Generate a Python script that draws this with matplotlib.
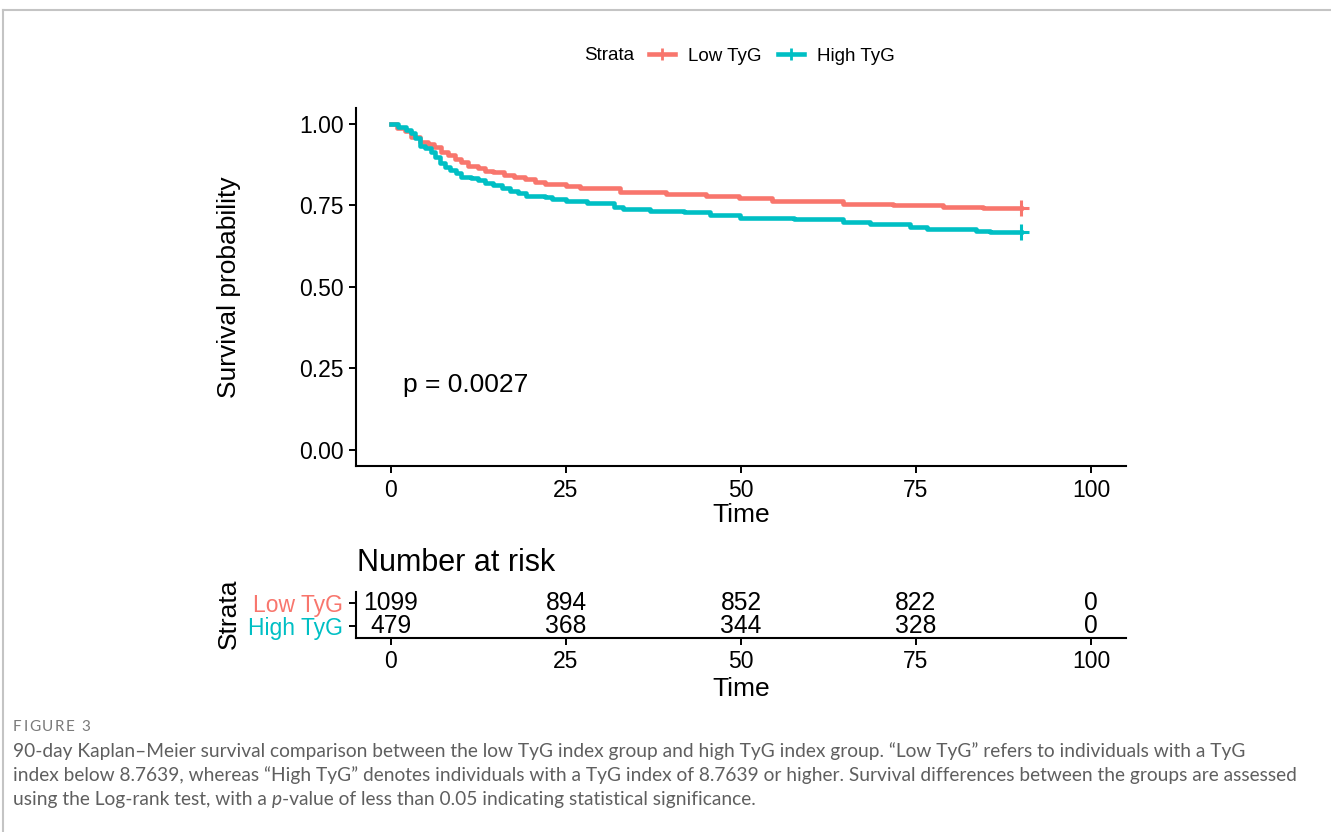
import matplotlib
matplotlib.use("Agg")
import matplotlib.pyplot as plt
from matplotlib.lines import Line2D

plt.rcParams['font.family'] = ['Liberation Sans', 'DejaVu Sans']

RED = "#F8766D"
CYAN = "#00BFC4"

# Kaplan-Meier step curves (time, survival)
low_times = [0, 0.8, 2.0, 2.9, 4.2, 5.3, 6.2, 7.2, 8.1, 9.1, 10.0, 11.0, 12.4, 13.4,
             14.6, 16.2, 17.6, 19.1, 20.5, 22.0, 25.0, 27.0, 32.7, 39.3, 45.0, 49.7,
             54.4, 64.6, 71.7, 78.9, 84.6, 90]
low_surv = [1.0, 0.989, 0.977, 0.961, 0.946, 0.938, 0.930, 0.915, 0.905, 0.893, 0.883,
            0.871, 0.864, 0.857, 0.852, 0.844, 0.836, 0.830, 0.823, 0.816, 0.811, 0.804,
            0.792, 0.785, 0.779, 0.772, 0.764, 0.755, 0.750, 0.744, 0.741, 0.741]

high_times = [0, 1.0, 2.2, 2.9, 3.4, 4.1, 4.8, 5.7, 6.3, 7.0, 7.7, 8.4, 9.3, 10.0, 11.5,
              12.4, 13.4, 14.6, 15.8, 17.0, 18.1, 19.3, 22.0, 23.0, 25.0, 28.0, 31.8,
              33.2, 37.0, 41.8, 45.6, 49.9, 57.5, 64.6, 68.4, 74.1, 76.5, 83.6, 85.5, 90]
high_surv = [1.0, 0.992, 0.982, 0.971, 0.958, 0.933, 0.925, 0.915, 0.900, 0.879, 0.869,
             0.859, 0.849, 0.838, 0.833, 0.828, 0.820, 0.813, 0.805, 0.795, 0.787, 0.780,
             0.777, 0.770, 0.765, 0.757, 0.746, 0.739, 0.734, 0.729, 0.721, 0.713, 0.708,
             0.698, 0.692, 0.685, 0.678, 0.673, 0.668, 0.668]

strata = ["Low TyG", "High TyG"]
risk_times = [0, 25, 50, 75, 100]
low_risk = [1099, 894, 852, 822, 0]
high_risk = [479, 368, 344, 328, 0]

W, H = 1331, 832


def px(x, y):
    return x / W, 1 - y / H


fig = plt.figure(figsize=(W / 100, H / 100), dpi=100)
fig.patch.set_facecolor("white")
renderer = fig.canvas.get_renderer()

# page frame (top and left)
fig.add_artist(Line2D([3 / W, 1], [1 - 10 / H] * 2, color="#c4c4c4", lw=1.5))
fig.add_artist(Line2D([3 / W] * 2, [0, 1 - 10 / H], color="#c4c4c4", lw=1.5))


def style_axes(ax):
    for s in ("top", "right"):
        ax.spines[s].set_visible(False)
    for s in ("left", "bottom"):
        ax.spines[s].set_linewidth(1.5)
        ax.spines[s].set_color("black")
    ax.tick_params(length=5, width=1.4, labelsize=16.5, pad=4, colors="black")
    ax.set_xlim(-5, 105)
    ax.set_xticks(risk_times)


# survival curves
ax = fig.add_axes([356 / W, 1 - 466.3 / H, 770 / W, 358.6 / H])
style_axes(ax)
ax.set_ylim(-0.05, 1.05)
ax.set_yticks([0, 0.25, 0.5, 0.75, 1.0])
ax.set_yticklabels(["0.00", "0.25", "0.50", "0.75", "1.00"])
ax.step(low_times, low_surv, where="post", color=RED, lw=3.3)
ax.step(high_times, high_surv, where="post", color=CYAN, lw=3.3)
ax.plot(low_times[-1], low_surv[-1], marker="+", ms=11, mew=2.2, color=RED)
ax.plot(high_times[-1], high_surv[-1], marker="+", ms=11, mew=2.2, color=CYAN)
ax.text(1.7, 0.2, "p = 0.0027", fontsize=19, ha="left", va="center")

fig.text(*px(229, 287), "Survival probability", rotation=90, fontsize=19,
         ha="center", va="center")
fig.text(*px(741, 515), "Time", fontsize=19, ha="center", va="center")

# legend
fig.text(*px(584, 56), "Strata", fontsize=13.5, ha="left", va="center")
handles = [Line2D([], [], color=c, lw=3.3, marker="+", ms=9, mew=2) for c in (RED, CYAN)]
fig.legend(handles, strata, loc="center left", bbox_to_anchor=px(649, 56), ncol=2,
           frameon=False, fontsize=13.5, handlelength=1.39, handletextpad=0.69,
           columnspacing=0.9, borderpad=0, borderaxespad=0)

# risk table
rax = fig.add_axes([356 / W, 1 - 637.5 / H, 770 / W, 46 / H])
style_axes(rax)
rax.set_ylim(0.5, 2.5)
rax.set_yticks([2, 1])
rax.set_yticklabels(strata)
for lab, c in zip(rax.get_yticklabels(), (RED, CYAN)):
    lab.set_color(c)
for t, a, b in zip(risk_times, low_risk, high_risk):
    rax.text(t, 2, str(a), ha="center", va="center", fontsize=17.7)
    rax.text(t, 1, str(b), ha="center", va="center", fontsize=17.7)

fig.text(*px(357, 563), "Number at risk", fontsize=22, ha="left", va="center")
fig.text(*px(229, 614), "Strata", rotation=90, fontsize=19, ha="center", va="center")
fig.text(*px(741, 689), "Time", fontsize=19, ha="center", va="center")

# caption
cap_font = ["Lato", "DejaVu Sans"]
cap_color = "#5f5f5f"

# slightly spaced-out label
x0 = 13
for ch in "FIGURE 3":
    t = fig.text(*px(x0, 727), ch, fontsize=11, color="#7a7a7a", ha="left",
                 va="center", family=cap_font)
    x0 += t.get_window_extent(renderer).width + 1.6

lines = [
    "90-day Kaplan\u2013Meier survival comparison between the low TyG index group and high TyG "
    "index group. \u201cLow TyG\u201d refers to individuals with a TyG",
    "index below 8.7639, whereas \u201cHigh TyG\u201d denotes individuals with a TyG index of "
    "8.7639 or higher. Survival differences between the groups are assessed",
]
for i, line in enumerate(lines):
    fig.text(*px(13, 751 + 24.5 * i), line, fontsize=13.8, color=cap_color,
             ha="left", va="center", family=cap_font)

# last line with italic p
x0 = 13
for part, style in (("using the Log-rank test, with a ", "normal"), ("p", "italic"),
                    ("-value of less than 0.05 indicating statistical significance.", "normal")):
    t = fig.text(*px(x0, 800), part, fontsize=13.8, color=cap_color, ha="left",
                 va="center", family=cap_font, style=style)
    x0 += t.get_window_extent(renderer).width

fig.savefig("out.png", dpi=100)
